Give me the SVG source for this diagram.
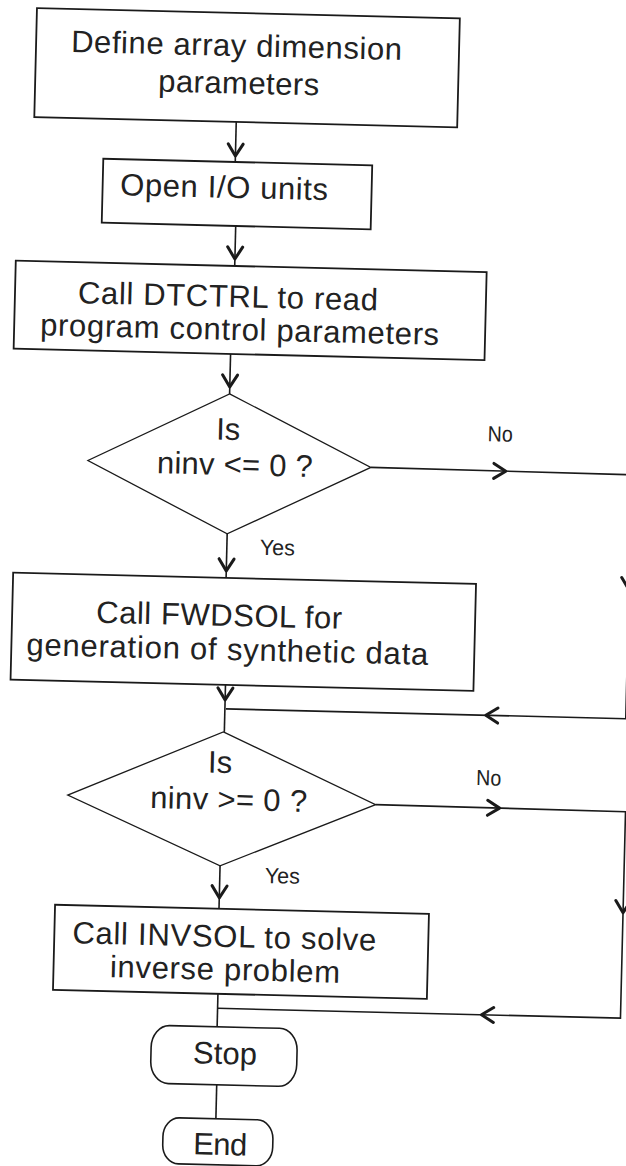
<svg xmlns="http://www.w3.org/2000/svg" xmlns:xlink="http://www.w3.org/1999/xlink" width="626" height="1166" viewBox="0 0 626 1166">
  <style>
    .box { fill: #fff; stroke: #1a1a1a; stroke-width: 1.8; }
    .dec { fill: #fff; stroke: #1a1a1a; stroke-width: 1.3; }
    .term { fill: #fff; stroke: #1a1a1a; stroke-width: 1.6; }
    .wire { fill: none; stroke: #1a1a1a; stroke-width: 1.6; }
    .head { fill: none; stroke: #1a1a1a; stroke-width: 3; stroke-linecap: round; stroke-linejoin: round; }
    .t { font-family: "Liberation Sans", Arial, sans-serif; font-size: 31px; fill: #222; text-anchor: middle; }
    .lbl { font-family: "Liberation Sans", Arial, sans-serif; font-size: 22px; fill: #222; }
  </style>
  <defs>
    <!-- open chevron, tip at the origin, pointing down -->
    <path id="ah" class="head" d="M-7.5,-12 L0,0 L7.5,-12"/>
  </defs>
  <rect width="626" height="1166" fill="#fff"/>

  <g transform="rotate(1.4 313 583)">
    <!-- connectors -->
    <g id="connectors">
      <line class="wire" x1="225" y1="124" x2="225" y2="164"/>
      <use xlink:href="#ah" transform="translate(225,158)"/>

      <line class="wire" x1="227" y1="228" x2="227" y2="268"/>
      <use xlink:href="#ah" transform="translate(227,261)"/>

      <line class="wire" x1="225" y1="356" x2="225" y2="396"/>
      <use xlink:href="#ah" transform="translate(225,389)"/>

      <!-- first decision: No branch bypasses FWDSOL -->
      <polyline class="wire" points="368,466 629,467 629,711 229,711"/>
      <use xlink:href="#ah" transform="translate(503,466.5) rotate(-90)"/>
      <use xlink:href="#ah" transform="translate(629,582)"/>
      <use xlink:href="#ah" transform="translate(489,711) rotate(90)"/>
      <text class="lbl" x="484" y="437" textLength="25" lengthAdjust="spacingAndGlyphs">No</text>

      <!-- first decision: Yes branch -->
      <line class="wire" x1="226" y1="536" x2="226" y2="580"/>
      <use xlink:href="#ah" transform="translate(226,573)"/>
      <text class="lbl" x="259" y="556" textLength="35" lengthAdjust="spacingAndGlyphs">Yes</text>

      <line class="wire" x1="228" y1="687" x2="228" y2="734"/>
      <use xlink:href="#ah" transform="translate(228,702)"/>

      <!-- second decision: No branch bypasses INVSOL -->
      <polyline class="wire" points="381,803 631,804 631,1010.5 228,1010.5"/>
      <use xlink:href="#ah" transform="translate(505,803.5) rotate(-90)"/>
      <use xlink:href="#ah" transform="translate(631,905)"/>
      <use xlink:href="#ah" transform="translate(492,1010.5) rotate(90)"/>
      <text class="lbl" x="481" y="781" textLength="25" lengthAdjust="spacingAndGlyphs">No</text>

      <!-- second decision: Yes branch -->
      <line class="wire" x1="227" y1="868" x2="227" y2="911"/>
      <use xlink:href="#ah" transform="translate(227,900)"/>
      <text class="lbl" x="272" y="884" textLength="35" lengthAdjust="spacingAndGlyphs">Yes</text>

      <line class="wire" x1="228" y1="996" x2="228" y2="1029"/>
      <line class="wire" x1="229" y1="1087" x2="229" y2="1121"/>
    </g>

    <g id="define-params">
      <rect class="box" x="23" y="15" width="423" height="109"/>
      <text class="t" x="223.5" y="58" textLength="331" lengthAdjust="spacing">Define array dimension</text>
      <text class="t" x="226.5" y="95.5" textLength="161" lengthAdjust="spacing">parameters</text>
    </g>

    <g id="open-units">
      <rect class="box" x="93" y="164" width="269" height="64"/>
      <text class="t" x="214.5" y="200" textLength="208" lengthAdjust="spacing">Open I/O units</text>
    </g>

    <g id="call-dtctrl">
      <rect class="box" x="8" y="268" width="471" height="88"/>
      <text class="t" x="221" y="309" textLength="300" lengthAdjust="spacing">Call DTCTRL to read</text>
      <text class="t" x="233.5" y="342" textLength="399" lengthAdjust="spacing">program control parameters</text>
    </g>

    <g id="decision-forward">
      <polygon class="dec" points="225,396 368,466 226,536 85,466"/>
      <text class="t" x="224.5" y="442">Is</text>
      <text class="t" x="232" y="477" textLength="156" lengthAdjust="spacing">ninv &lt;= 0 ?</text>
    </g>

    <g id="call-fwdsol">
      <rect class="box" x="13" y="580" width="463" height="107"/>
      <text class="t" x="220" y="628" textLength="246" lengthAdjust="spacing">Call FWDSOL for</text>
      <text class="t" x="229" y="662" textLength="402" lengthAdjust="spacing">generation of synthetic data</text>
    </g>

    <g id="decision-inverse">
      <polygon class="dec" points="227,734 381,803 227,868 73,801"/>
      <text class="t" x="224.5" y="775">Is</text>
      <text class="t" x="234" y="812" textLength="157" lengthAdjust="spacing">ninv &gt;= 0 ?</text>
    </g>

    <g id="call-invsol">
      <rect class="box" x="63" y="911" width="374" height="85"/>
      <text class="t" x="233" y="949" textLength="304" lengthAdjust="spacing">Call INVSOL to solve</text>
      <text class="t" x="234.5" y="982" textLength="230" lengthAdjust="spacing">inverse problem</text>
    </g>

    <g id="stop">
      <rect class="term" x="162.5" y="1029" width="146" height="58" rx="18" ry="22"/>
      <text class="t" x="236.5" y="1066" textLength="64" lengthAdjust="spacing">Stop</text>
    </g>

    <g id="end">
      <rect class="term" x="176.5" y="1121" width="110" height="46" rx="16" ry="19"/>
      <text class="t" x="234" y="1157" textLength="54" lengthAdjust="spacing">End</text>
    </g>
  </g>
</svg>
